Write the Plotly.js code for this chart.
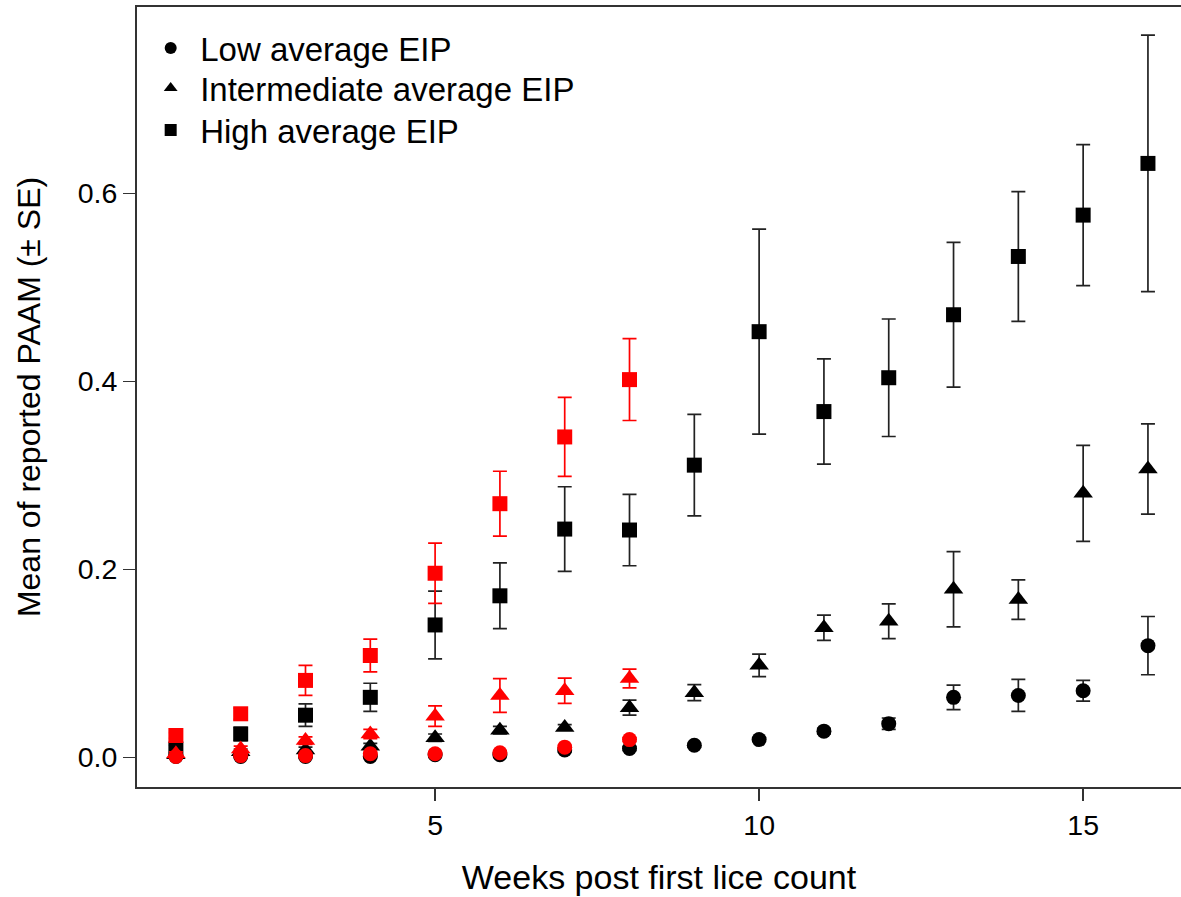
<!DOCTYPE html>
<html><head><meta charset="utf-8">
<script src="https://cdn.plot.ly/plotly-3.0.1.min.js"></script>
<style>html,body{margin:0;padding:0;background:#fff}</style>
</head><body>
<div id="chart" style="width:1181px;height:897px"></div>
<script>
// Weeks post first lice count
const weeks    = [1,2,3,4,5,6,7,8,9,10,11,12,13,14,15,16];
const weeksRed = [1,2,3,4,5,6,7,8];

// Black series (all 16 weeks)
const lowBlack      = [0.001,0.001,0.001,0.001,0.003,0.003,0.008,0.0095,0.013,0.019,0.028,0.036,0.064,0.066,0.071,0.119];
const lowBlackSE    = [0.001,0.001,0.001,0.001,0.001,0.001,0.002,0.002,0.002,0.002,0.003,0.006,0.013,0.017,0.011,0.031];
const interBlack    = [0.003,0.006,0.008,0.012,0.021,0.029,0.032,0.053,0.069,0.098,0.138,0.145,0.179,0.168,0.281,0.307];
const interBlackSE  = [0.002,0.003,0.003,0.003,0.004,0.004,0.003,0.008,0.0085,0.012,0.0135,0.0185,0.040,0.021,0.051,0.048];
const highBlack     = [0.009,0.025,0.045,0.064,0.141,0.172,0.243,0.242,0.311,0.453,0.368,0.404,0.471,0.533,0.577,0.632];
const highBlackSE   = [0.004,0.007,0.012,0.015,0.036,0.035,0.045,0.038,0.054,0.109,0.056,0.0625,0.077,0.069,0.075,0.1365];

// Red series (weeks 1-8)
const lowRed        = [0.001,0.002,0.002,0.004,0.004,0.005,0.011,0.019];
const lowRedSE      = [0.001,0.001,0.001,0.001,0.001,0.001,0.002,0.002];
const interRed      = [0.004,0.009,0.018,0.025,0.044,0.066,0.071,0.084];
const interRedSE    = [0.002,0.003,0.004,0.005,0.011,0.018,0.0135,0.010];
const highRed       = [0.0234,0.0465,0.082,0.1085,0.196,0.270,0.341,0.402];
const highRedSE     = [0.003,0.006,0.016,0.0175,0.032,0.0345,0.042,0.0435];

const legendNames = ['Low average EIP','Intermediate average EIP','High average EIP'];
const symbols = ['circle','triangle-up','square'];

const BLACK = '#000000', RED = '#ff0000';
const FONT = 'Liberation Sans, Arial, sans-serif';

function series(x, y, se, sym, color, size) {
  return {
    type: 'scatter', mode: 'markers', x: x, y: y, showlegend: false, hoverinfo: 'x+y',
    marker: {symbol: sym, color: color, size: size, line: {width: 0}},
    error_y: {type: 'data', array: se, visible: true, color: color === BLACK ? '#222222' : RED, thickness: 1.7, width: 7}
  };
}

const traces = [
  series(weeks, lowBlack, lowBlackSE, symbols[0], BLACK, 15),
  series(weeks, interBlack, interBlackSE, symbols[1], BLACK, 17),
  series(weeks, highBlack, highBlackSE, symbols[2], BLACK, 15),
  series(weeksRed, lowRed, lowRedSE, symbols[0], RED, 15),
  series(weeksRed, interRed, interRedSE, symbols[1], RED, 17),
  series(weeksRed, highRed, highRedSE, symbols[2], RED, 15)
];
const legendIds = ['legend','legend2','legend3'];
legendNames.forEach((n, i) => {
  traces.push({type: 'scatter', mode: 'markers', x: [null], y: [null], name: n, showlegend: true,
    legend: legendIds[i], marker: {symbol: symbols[i], color: BLACK, size: 12}});
});

function legendBox(yPaper) {
  return {x: 0.004, y: yPaper, xanchor: 'left', yanchor: 'middle', bgcolor: 'rgba(0,0,0,0)',
    font: {family: FONT, size: 33, color: '#000'}, itemsizing: 'trace', itemwidth: 49};
}

const layout = {
  width: 1181, height: 897,
  margin: {l: 137, r: 0, t: 7, b: 110},
  paper_bgcolor: '#fff', plot_bgcolor: '#fff',
  font: {family: FONT, color: '#000'},
  showlegend: true,
  legend: legendBox(0.9474),
  legend2: legendBox(0.8962),
  legend3: legendBox(0.8423),
  xaxis: {
    range: [0.4, 16.51], tickvals: [5, 10, 15], ticktext: ['5','10','15'],
    showgrid: false, zeroline: false, showline: true, mirror: true, linecolor: '#333', linewidth: 2,
    ticks: 'outside', ticklen: 12, tickwidth: 1.5, tickcolor: '#333',
    tickfont: {family: FONT, size: 28.5, color: '#000'},
    title: {text: 'Weeks post first lice count', font: {family: FONT, size: 34, color: '#000'}, standoff: 25}
  },
  yaxis: {
    range: [-0.0314, 0.7984], tickvals: [0, 0.2, 0.4, 0.6], ticktext: ['0.0','0.2','0.4','0.6'],
    showgrid: false, zeroline: false, showline: true, mirror: false, linecolor: '#333', linewidth: 2,
    ticks: 'outside', ticklen: 12, tickwidth: 1.5, tickcolor: '#333',
    tickfont: {family: FONT, size: 28.5, color: '#000'},
    title: {text: 'Mean of reported PAAM (± SE)', font: {family: FONT, size: 32, color: '#000'}, standoff: 27}
  }
};

Plotly.newPlot('chart', traces, layout, {displayModeBar: false, staticPlot: true});
</script>
</body></html>
